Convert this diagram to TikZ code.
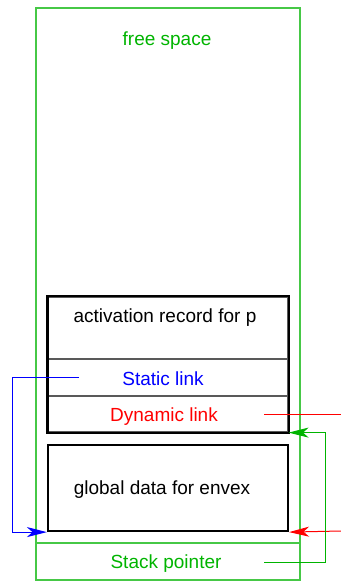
\documentclass[tikz,border=0pt]{standalone}
\usepackage{fontspec}
\setmainfont{Liberation Sans}
\usetikzlibrary{arrows.meta}
\definecolor{spgreen}{RGB}{0,180,0}
\definecolor{framegreen}{RGB}{70,200,70}
\tikzset{
  frame/.style={draw=framegreen, line width=0.6pt, minimum width=132pt, inner sep=0pt},
  recbox/.style={draw=black, line width=1.1pt, minimum width=120pt, inner sep=0pt},
  recrow/.style={draw=gray!70!black, line width=0.6pt, minimum width=120pt, inner sep=0pt},
  boxline/.style={draw=black, line width=1.1pt},
  txt/.style={font=\fontsize{9.5}{11}\selectfont, inner sep=0pt},
  link/.style={line width=0.5pt},
  ptr/.style={link, -{Stealth[length=10pt, width=5pt, inset=2.8pt]}}
}

\begin{document}
\begin{tikzpicture}[x=0.5pt, y=-0.5pt]
  \useasboundingbox (0,0) rectangle (341,581);
  % the stack
  \node (stack) [frame, minimum height=286pt] at (168,294) {};
  \node (spcell) [frame, minimum height=18.5pt] at (168,561.5) {};
  \node (fstxt) [txt, text=spgreen] at (167,41) {free space};
  \node (sptxt) [txt, text=spgreen] at (166,564) {Stack pointer};
  % activation record
  \node (arec) [recrow, minimum height=31pt] at (168,328) {};
  \node (slink) [recrow, minimum height=18.5pt] at (168,377.5) {};
  \node (dlink) [recrow, minimum height=18pt] at (168,414) {};
  \draw [boxline] (arec.north west) rectangle (dlink.south east);
  \node (artxt) [txt] at (165,318) {activation record for p};
  \node (sltxt) [txt, text=blue] at (163,378.5) {Static link};
  \node (dltxt) [txt, text=red] at (164,417) {Dynamic link};
  % global data
  \node (gdata) [recbox, minimum height=43pt] at (168,488) {};
  \node (gdtxt) [txt] at (162,490) {global data for envex};
  % links
  \coordinate (slfrom) at (79,377);
  \coordinate (slbend) at (12,377);
  \draw [ptr, blue] (slfrom) -- (slbend) |- (gdata.south west);
  \coordinate (dlfrom) at (264,414);
  \coordinate (dlout) at (341,414);
  \draw [link, red] (dlfrom) -- (dlout);
  \coordinate (dlin) at (341,531);
  \draw [ptr, red] (dlin) -- (gdata.south east);
  \coordinate (spfrom) at (264,562);
  \coordinate (spbend) at (325,562);
  \draw [ptr, spgreen] (spfrom) -- (spbend) |- (dlink.south east);
\end{tikzpicture}
\end{document}
